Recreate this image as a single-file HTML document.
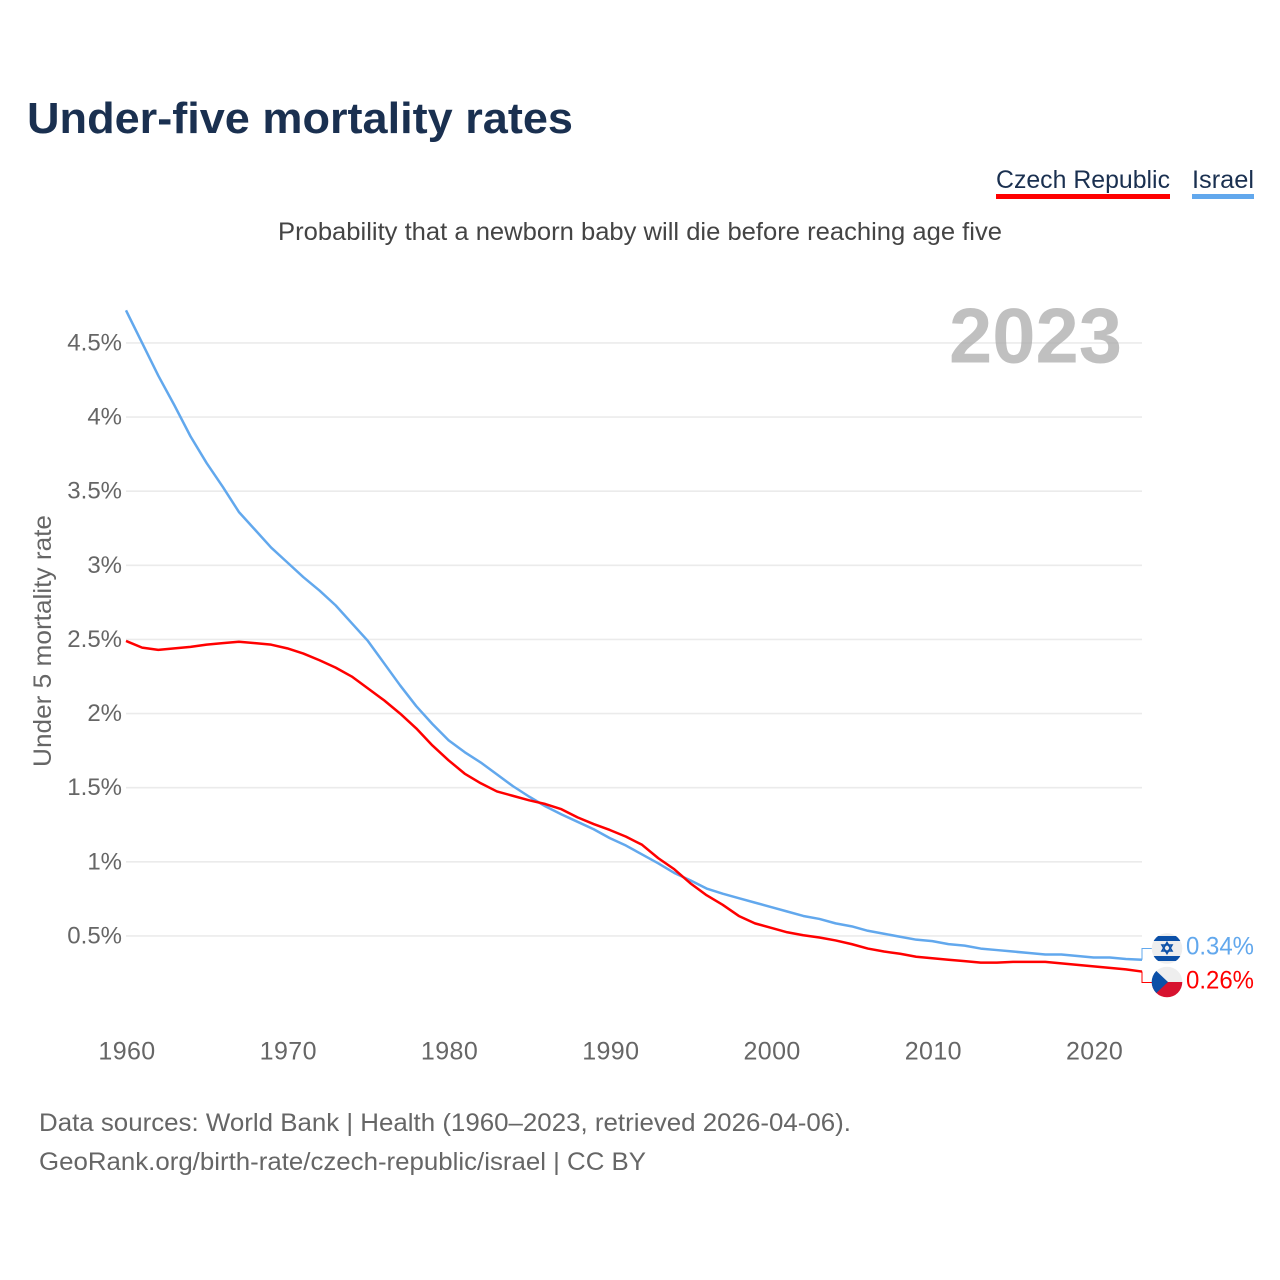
<!DOCTYPE html>
<html lang="en">
<head>
<meta charset="utf-8">
<title>Under-five mortality rates</title>
<style>
html,body{margin:0;padding:0;background:#fff;}
svg{display:block;font-family:"Liberation Sans",sans-serif;}
</style>
</head>
<body>
<svg id="chart" xmlns="http://www.w3.org/2000/svg" width="1280" height="1280" viewBox="0 0 1280 1280">
  <defs>
    <clipPath id="clip-il"><circle cx="1167" cy="948.5" r="15.3"/></clipPath>
    <clipPath id="clip-cz"><circle cx="1167" cy="982" r="15.3"/></clipPath>
  </defs>
  <rect width="1280" height="1280" fill="#fff"/>
  <text x="27" y="133" font-size="44" font-weight="700" fill="#1a3050" textLength="546" lengthAdjust="spacingAndGlyphs">Under-five mortality rates</text>
  <text x="996" y="188" font-size="25" fill="#1a3050" textLength="174" lengthAdjust="spacingAndGlyphs">Czech Republic</text>
  <rect x="996" y="194" width="174" height="5" fill="#ff0000"/>
  <text x="1192" y="188" font-size="25" fill="#1a3050" textLength="62" lengthAdjust="spacingAndGlyphs">Israel</text>
  <rect x="1192" y="194" width="62" height="5" fill="#62a8ed"/>
  <text x="278" y="240" font-size="25" fill="#444" textLength="724" lengthAdjust="spacingAndGlyphs">Probability that a newborn baby will die before reaching age five</text>
  <g id="grid"></g>
  <text x="949" y="362.5" font-size="78" font-weight="700" fill="#a8a8a8" fill-opacity="0.72" textLength="173" lengthAdjust="spacingAndGlyphs">2023</text>
  <g id="yticks"></g>
  <g id="xticks"></g>
  <text transform="translate(51,641) rotate(-90)" text-anchor="middle" font-size="25" fill="#666" textLength="252" lengthAdjust="spacingAndGlyphs">Under 5 mortality rate</text>
  <g id="series"></g>
  <g id="end-labels"></g>
  <g clip-path="url(#clip-il)">
    <rect x="1150" y="932" width="34" height="34" fill="#eeeeee"/>
    <rect x="1150" y="936" width="34" height="5" fill="#0b50a8"/>
    <rect x="1150" y="956" width="34" height="5" fill="#0b50a8"/>
    <polygon points="1167,942.5 1172,951 1162,951" fill="none" stroke="#0b50a8" stroke-width="1.6"/>
    <polygon points="1167,953.5 1172,945 1162,945" fill="none" stroke="#0b50a8" stroke-width="1.6"/>
  </g>
  <g clip-path="url(#clip-cz)">
    <rect x="1150" y="965" width="34" height="17" fill="#eeeeee"/>
    <rect x="1150" y="982" width="34" height="17" fill="#d7122f"/>
    <polygon points="1150,965 1168,982 1150,999" fill="#0b50a8"/>
  </g>
  <text x="39" y="1131" font-size="25" fill="#666" textLength="812" lengthAdjust="spacingAndGlyphs">Data sources: World Bank | Health (1960–2023, retrieved 2026-04-06).</text>
  <text x="39" y="1170" font-size="25" fill="#666" textLength="607" lengthAdjust="spacingAndGlyphs">GeoRank.org/birth-rate/czech-republic/israel | CC BY</text>
</svg>
<script>
const firstYear = 1960;
const yTickValues = [0.5, 1, 1.5, 2, 2.5, 3, 3.5, 4, 4.5];
const yTickLabels = ['0.5%', '1%', '1.5%', '2%', '2.5%', '3%', '3.5%', '4%', '4.5%'];
const xTickYears = [1960, 1970, 1980, 1990, 2000, 2010, 2020];
const czechValues = [2.49,2.445,2.43,2.44,2.45,2.465,2.475,2.485,2.475,2.465,2.44,2.405,2.36,2.31,2.25,2.17,2.09,2.0,1.9,1.785,1.685,1.595,1.53,1.475,1.445,1.415,1.39,1.355,1.3,1.255,1.215,1.17,1.115,1.025,0.95,0.855,0.775,0.71,0.635,0.585,0.555,0.525,0.505,0.49,0.47,0.445,0.415,0.395,0.38,0.36,0.35,0.34,0.33,0.32,0.32,0.325,0.325,0.325,0.315,0.305,0.295,0.285,0.275,0.26];
const israelValues = [4.72,4.5,4.28,4.08,3.87,3.69,3.53,3.36,3.24,3.12,3.02,2.92,2.83,2.73,2.61,2.49,2.34,2.19,2.05,1.93,1.82,1.74,1.67,1.59,1.51,1.44,1.375,1.32,1.27,1.22,1.16,1.11,1.05,0.99,0.925,0.875,0.82,0.785,0.755,0.725,0.695,0.665,0.635,0.615,0.585,0.565,0.535,0.515,0.495,0.475,0.465,0.445,0.435,0.415,0.405,0.395,0.385,0.375,0.375,0.365,0.355,0.355,0.345,0.34];

const NS = 'http://www.w3.org/2000/svg';
function xScale(year) { return 126 + (year - 1960) * 16.127; }
function yScale(v) { return 1010.1 - v * 148.25; }
function make(tag, attrs, parent, text) {
  const el = document.createElementNS(NS, tag);
  for (const k in attrs) el.setAttribute(k, attrs[k]);
  if (text !== undefined) el.textContent = text;
  parent.appendChild(el);
  return el;
}
const gridG = document.getElementById('grid');
const yG = document.getElementById('yticks');
const xG = document.getElementById('xticks');
const seriesG = document.getElementById('series');
const endG = document.getElementById('end-labels');

yTickValues.forEach(function (v, i) {
  const line = make('line', {x1: 126, x2: 1142, y1: yScale(v), y2: yScale(v), stroke: '#ebebeb', 'stroke-width': 1.6}, gridG);
  
  
  const label = make('text', {x: 122, y: yScale(v) + 7.5, 'text-anchor': 'end', 'font-size': 24, fill: '#666'}, yG, yTickLabels[i]);
  
  
});
xTickYears.forEach(function (yr) {
  const label = make('text', {x: xScale(yr) + 1, y: 1059.5, 'text-anchor': 'middle', 'font-size': 25, fill: '#666', 'letter-spacing': 0.4}, xG, String(yr));
  
  
});
function linePoints(values) {
  return values.map(function (v, i) {
    return xScale(firstYear + i).toFixed(2) + ',' + yScale(v).toFixed(2);
  }).join(' ');
}
const lineIsrael = make('polyline', {points: linePoints(israelValues), fill: 'none', stroke: '#62a8ed', 'stroke-width': 2.5, 'stroke-linejoin': 'round'}, seriesG);


const lineCzech = make('polyline', {points: linePoints(czechValues), fill: 'none', stroke: '#ff0000', 'stroke-width': 2.5, 'stroke-linejoin': 'round'}, seriesG);



const lastYear = firstYear + israelValues.length - 1;
const lastIsrael = israelValues[israelValues.length - 1];
const lastCzech = czechValues[czechValues.length - 1];
const connIsrael = make('polyline', {points: xScale(lastYear) + ',' + yScale(lastIsrael) + ' ' + xScale(lastYear) + ',948.5 1153,948.5', fill: 'none', stroke: '#62a8ed', 'stroke-width': 1}, endG);


const connCzech = make('polyline', {points: xScale(lastYear) + ',' + yScale(lastCzech) + ' ' + xScale(lastYear) + ',982.5 1153,982.5', fill: 'none', stroke: '#ff0000', 'stroke-width': 1}, endG);


const valIsrael = make('text', {x: 1186, y: 954.5, 'font-size': 25, fill: '#62a8ed', textLength: 68, lengthAdjust: 'spacingAndGlyphs'}, endG, lastIsrael.toFixed(2) + '%');


const valCzech = make('text', {x: 1186, y: 988.5, 'font-size': 25, fill: '#ff0000', textLength: 68, lengthAdjust: 'spacingAndGlyphs'}, endG, lastCzech.toFixed(2) + '%');


</script>
</body>
</html>
